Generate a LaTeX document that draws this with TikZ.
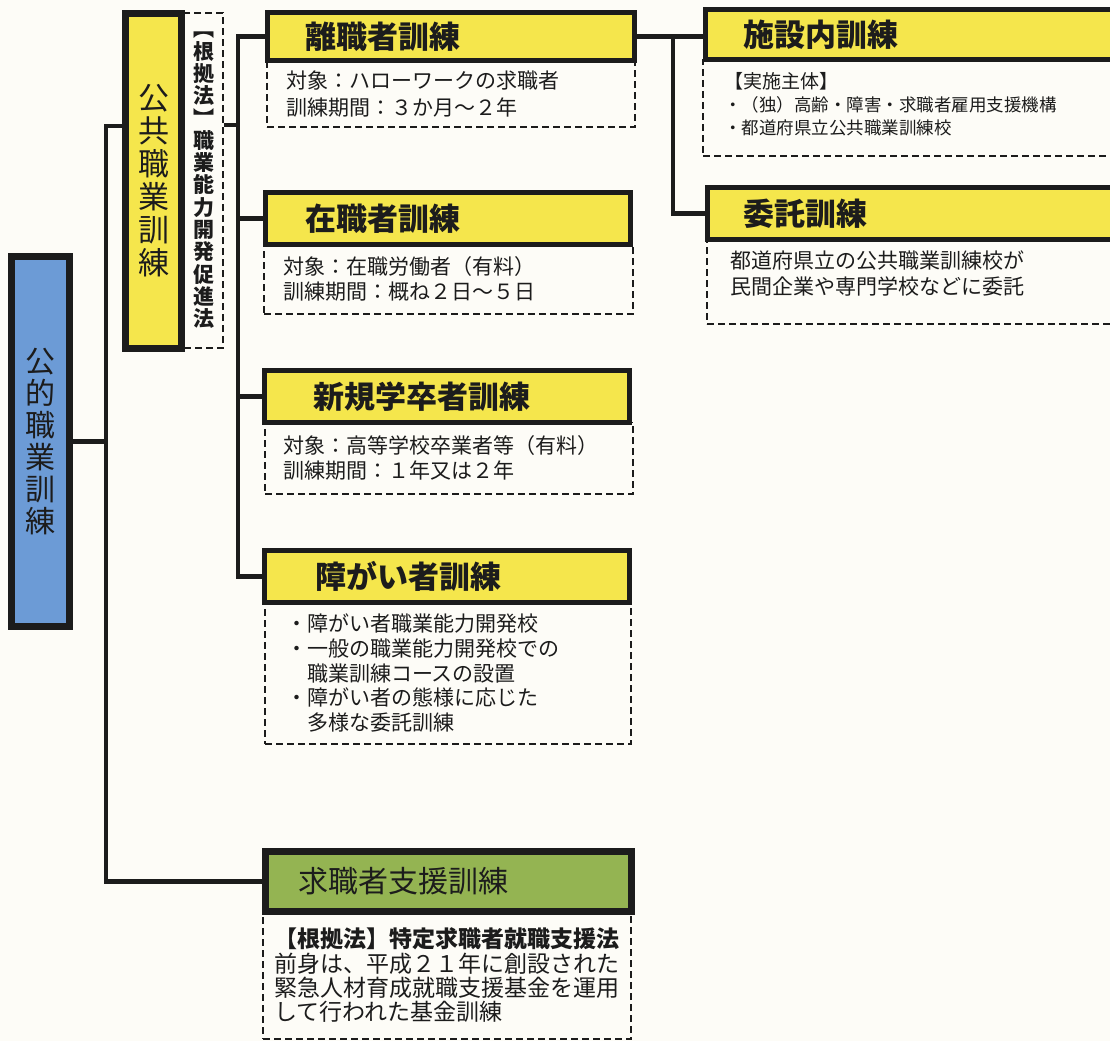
\documentclass[tikz,border=0pt]{standalone}
\usepackage{fontspec}
\setmainfont{Noto Sans CJK JP}
\definecolor{ink}{HTML}{1C1C1C}
\definecolor{ylw}{HTML}{F5E64C}
\definecolor{blu}{HTML}{6C9BD6}
\definecolor{grn}{HTML}{94B452}
\definecolor{bgc}{HTML}{FDFCF7}
\begin{document}
\begin{tikzpicture}[x=1pt,y=-1pt,
  conn/.style={draw=ink, line width=4.5pt},
  hdr/.style={draw=ink, line width=5pt, fill=ylw, text=ink, align=left, inner ysep=0pt,
    font=\bfseries\fontsize{31}{33}\selectfont},
  vbar/.style={draw=ink, line width=7pt, text=ink, align=center, inner sep=0pt},
  dbox/.style={draw=ink, line width=1.8pt, dash pattern=on 7pt off 4pt, text=ink,
    align=left, inner ysep=2pt},
  body/.style={font=\fontsize{21}{25}\selectfont}
]
\useasboundingbox (0,0) rectangle (1110,1041);
\fill[bgc] (0,0) rectangle (1110,1041);
\clip (0,0) rectangle (1110,1041);

% dashed boxes (drawn first)
\node[dbox, minimum width=39, minimum height=335, inner sep=0pt, align=center,
  font=\bfseries\fontsize{21}{22.3}\selectfont] (law) at (203.5,180.5)
  {︻\\根\\拠\\法\\︼\\職\\業\\能\\力\\開\\発\\促\\進\\法};

\node[dbox, body, font=\fontsize{21}{27}\selectfont, minimum width=368, minimum height=66.5, text width=330, inner xsep=19] (d1) at (451,93.75)
  {対象：ハローワークの求職者\\訓練期間：３か月～２年};
\node[dbox, body, minimum width=369, minimum height=69.5, text width=331, inner xsep=19] (d2) at (448.5,279.25)
  {対象：在職労働者（有料）\\訓練期間：概ね２日～５日};
\node[dbox, body, minimum width=368, minimum height=71.5, text width=332, inner xsep=18] (d3) at (449,458.25)
  {対象：高等学校卒業者等（有料）\\訓練期間：１年又は２年};
\node[dbox, body, font=\fontsize{21}{24.7}\selectfont, minimum width=366, minimum height=141.5, text width=324, inner xsep=21] (d4) at (448,673.25)
  {・障がい者職業能力開発校\\・一般の職業能力開発校での\\\hspace*{1em}職業訓練コースの設置\\・障がい者の態様に応じた\\\hspace*{1em}多様な委託訓練};
\node[dbox, font=\fontsize{23}{24.3}\selectfont, minimum width=368, minimum height=127.5, text width=346, inner xsep=11] (d5) at (447,975.25)
  {\textbf{【根拠法】特定求職者就職支援法}\\前身は、平成２１年に創設された\\緊急人材育成就職支援基金を運用\\して行われた基金訓練};
\node[dbox, font=\fontsize{17.5}{23}\selectfont, minimum width=497, minimum height=96.5, text width=455, inner xsep=21] (ds1) at (951.5,107.75)
  {{\fontsize{19}{23}\selectfont 【実施主体】}\\・（独）高齢・障害・求職者雇用支援機構\\・都道府県立公共職業訓練校\rule[-9.5pt]{0pt}{9.5pt}};
\node[dbox, font=\fontsize{21}{26}\selectfont, minimum width=493, minimum height=84.5, text width=447, inner xsep=23] (di1) at (953.5,281.75)
  {都道府県立の公共職業訓練校が\\民間企業や専門学校などに委託\rule[-17.5pt]{0pt}{17.5pt}};

% vertical bars
\node[vbar, fill=blu, minimum width=58, minimum height=370,
  font=\fontsize{30}{32}\selectfont] (blue) at (40.5,441.5)
  {公\\的\\職\\業\\訓\\練};
\node[vbar, fill=ylw, minimum width=56, minimum height=335,
  font=\fontsize{31}{33}\selectfont] (kokyo) at (153.5,181)
  {公\\共\\職\\業\\訓\\練};

% headers
\node[hdr, minimum width=367, minimum height=48, text width=292, inner xsep=37.5] (h1) at (451,36.5) {離職者訓練};
\node[hdr, minimum width=365, minimum height=52, text width=286, inner xsep=39.5] (h2) at (448,218.5) {在職者訓練};
\node[hdr, minimum width=365, minimum height=52, text width=268, inner xsep=48.5] (h3) at (447,396.5) {新規学卒者訓練};
\node[hdr, minimum width=365, minimum height=52, text width=264, inner xsep=50.5] (h4) at (447,576.5) {障がい者訓練};
\node[hdr, line width=7pt, fill=grn, font=\fontsize{30}{32}\selectfont, minimum width=366, minimum height=60, text width=301, inner xsep=32.5] (green) at (448.5,881.5) {求職者支援訓練};
\node[hdr, minimum width=494.5, minimum height=50, text width=419.5, inner xsep=37.5] (s1) at (952.75,34.5) {施設内訓練};
\node[hdr, minimum width=492.5, minimum height=52, text width=421.5, inner xsep=35.5] (i1) at (953.75,213.5) {委託訓練};

% connectors
\coordinate (L) at (106,126);
\coordinate (M) at (238,125);
\coordinate (R) at (673,36.5);
\draw[conn] (kokyo.west |- L) -| (green.west -| L) -- (green.west);
\draw[conn] (blue.east) -- (blue.east -| L);
\draw[conn] (law.east |- M) -- (M);
\draw[conn] (h1.west) -| (M |- h4.west) -- (h4.west);
\draw[conn] (h2.west) -- (h2.west -| M);
\draw[conn] (h3.west) -- (h3.west -| M);
\draw[conn] (h1.east) -- (h1.east -| s1.west);
\draw[conn] (R) |- (i1.west);
\end{tikzpicture}
\end{document}
